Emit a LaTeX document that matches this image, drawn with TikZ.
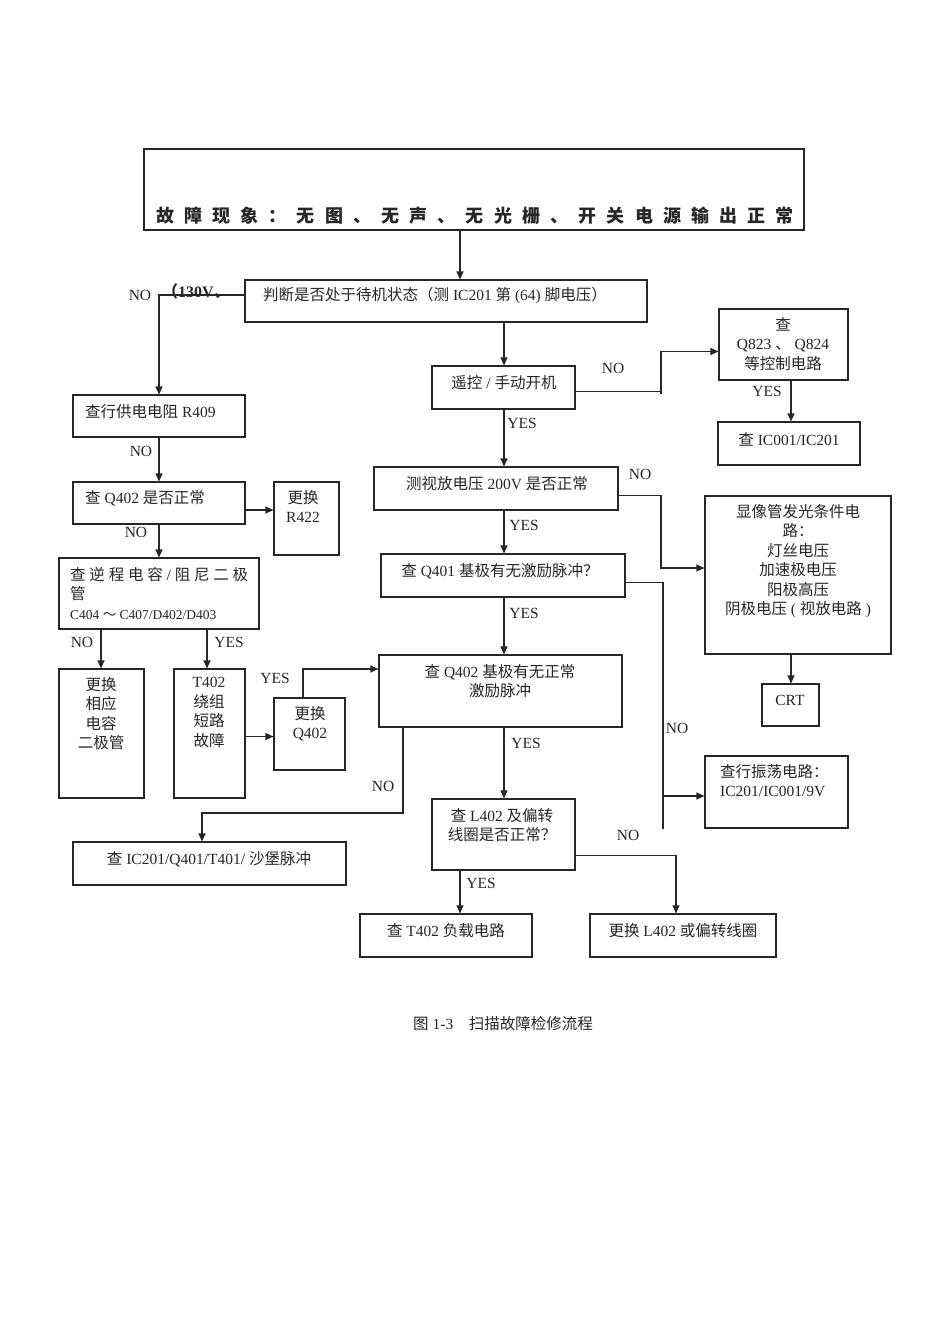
\documentclass[tikz,border=0pt]{standalone}
\usepackage{fontspec}
\setmainfont{Liberation Serif}
\newfontfamily\cjk{Noto Sans CJK SC}
\newcommand\zh[1]{{\cjk #1}}
\usetikzlibrary{arrows.meta,fit,calc}
\tikzset{
  boxsty/.style={draw=black!85, line width=1.1pt, inner sep=0pt},
  txt/.style={inner sep=0pt, font=\fontsize{15.5}{19.5}\selectfont, text=black!85, align=center},
  lbl/.style={inner sep=0pt, font=\fontsize{15.5}{19.5}\selectfont, text=black!85},
  arr/.style={draw=black!85, line width=1.1pt, -{Triangle[length=8pt,width=7pt]}},
  ln/.style={draw=black!85, line width=1.1pt}
}
\begin{document}
\begin{tikzpicture}[x=1pt,y=-1pt]
\useasboundingbox (0,0) rectangle (950,1344);
\fill[white] (0,0) rectangle (950,1344);
% helper coordinates
\coordinate (x460) at (460,0);
\coordinate (x504) at (504,0);
\coordinate (x661) at (661,0);
\coordinate (x663) at (663,0);
\coordinate (x676) at (676,0);
\coordinate (x791) at (791,0);
\coordinate (x403) at (403,0);
\coordinate (x202) at (202,0);
\coordinate (x101) at (101,0);
\coordinate (x207) at (207,0);
\coordinate (x303) at (303,0);
\coordinate (y813) at (0,813);
\coordinate (y796) at (0,796);
% boxes
\node[boxsty, line width=2.4pt, fit={(144,149)(804,230)}] (top) {};
\node[boxsty, fit={(245,280)(647,322)}] (judge) {};
\node[boxsty, fit={(73,395)(245,437)}] (r409) {};
\node[boxsty, fit={(73,482)(245,524)}] (q402) {};
\node[boxsty, fit={(274,482)(339,555)}] (r422) {};
\node[boxsty, fit={(59,558)(259,629)}] (nic) {};
\node[boxsty, fit={(59,669)(144,798)}] (rep1) {};
\node[boxsty, fit={(174,669)(245,798)}] (t402) {};
\node[boxsty, fit={(274,698)(345,770)}] (rq402) {};
\node[boxsty, fit={(432,366)(575,409)}] (yk) {};
\node[boxsty, fit={(719,309)(848,380)}] (q823) {};
\node[boxsty, fit={(718,422)(860,465)}] (ic001) {};
\node[boxsty, fit={(374,467)(618,510)}] (sv) {};
\node[boxsty, fit={(705,496)(891,654)}] (cond) {};
\node[boxsty, fit={(762,684)(819,726)}] (crt) {};
\node[boxsty, fit={(381,554)(625,597)}] (q401) {};
\node[boxsty, fit={(705,756)(848,828)}] (osc) {};
\node[boxsty, fit={(379,655)(622,727)}] (qb) {};
\node[boxsty, fit={(73,842)(346,885)}] (ic201) {};
\node[boxsty, fit={(432,799)(575,870)}] (l402) {};
\node[boxsty, fit={(360,914)(532,957)}] (t402l) {};
\node[boxsty, fit={(590,914)(776,957)}] (rl) {};
% texts
\node[txt, font=\fontsize{18}{20}\selectfont] (top-t) at (475,216) {\bfseries\cjk\makebox[638pt][s]{故\hfill 障\hfill 现\hfill 象\hfill ：\hfill 无\hfill 图\hfill 、\hfill 无\hfill 声\hfill 、\hfill 无\hfill 光\hfill 栅\hfill 、\hfill 开\hfill 关\hfill 电\hfill 源\hfill 输\hfill 出\hfill 正\hfill 常}};
\node[txt, anchor=west] (judge-t) at (263,296) {\zh{判断是否处于待机状态（测} IC201 \zh{第} (64) \zh{脚电压）}};
\node[txt, anchor=west] (r409-t) at (85,412) {\zh{查行供电电阻} R409};
\node[txt, anchor=west] (q402-t) at (85,498) {\zh{查} Q402 \zh{是否正常}};
\node[txt, anchor=north] (r422-t) at (303,490) {\zh{更换}\\R422};
\node[txt, anchor=north west, align=left] (nic-t) at (70,567) {\makebox[178pt][s]{\zh{查}\hfill\zh{逆}\hfill\zh{程}\hfill\zh{电}\hfill\zh{容}\hfill /\hfill\zh{阻}\hfill\zh{尼}\hfill\zh{二}\hfill\zh{极}}\\\zh{管}\\{\fontsize{13.5}{19.5}\selectfont C404 \zh{～} C407/D402/D403}};
\node[txt, anchor=north] (rep1-t) at (101,677) {\zh{更换}\\\zh{相应}\\\zh{电容}\\\zh{二极管}};
\node[txt, anchor=north] (t402-t) at (209,677) {T402\\\zh{绕组}\\\zh{短路}\\\zh{故障}};
\node[txt, anchor=north] (rq402-t) at (310,706) {\zh{更换}\\Q402};
\node[txt] (yk-t) at (504,383) {\zh{遥控} / \zh{手动开机}};
\node[txt, anchor=north] (q823-t) at (783,317) {\zh{查}\\Q823 \zh{、} Q824\\\zh{等控制电路}};
\node[txt] (ic001-t) at (789,439) {\zh{查} IC001/IC201};
\node[txt] (sv-t) at (497,484) {\zh{测视放电压} 200V \zh{是否正常}};
\node[txt, anchor=north] (cond-t) at (798,504) {\zh{显像管发光条件电}\\\zh{路：}\\\zh{灯丝电压}\\\zh{加速极电压}\\\zh{阳极高压}\\\zh{阴极电压} ( \zh{视放电路} )};
\node[txt] (crt-t) at (790,700) {CRT};
\node[txt] (q401-t) at (500,571) {\zh{查} Q401 \zh{基极有无激励脉冲？}};
\node[txt, anchor=north west, align=left] (osc-t) at (720,764) {\zh{查行振荡电路：}\\IC201/IC001/9V};
\node[txt, anchor=north] (qb-t) at (500,664) {\zh{查} Q402 \zh{基极有无正常}\\\zh{激励脉冲}};
\node[txt] (ic201-t) at (209,859) {\zh{查} IC201/Q401/T401/ \zh{沙堡脉冲}};
\node[txt, anchor=north] (l402-t) at (502,808) {\zh{查} L402 \zh{及偏转}\\\zh{线圈是否正常？}};
\node[txt] (t402l-t) at (446,931) {\zh{查} T402 \zh{负载电路}};
\node[txt] (rl-t) at (683,931) {\zh{更换} L402 \zh{或偏转线圈}};
\node[txt] (cap) at (503,1024) {\zh{图} 1-3\zh{　扫描故障检修流程}};
% connectors
\draw[arr] (top.south -| x460) -- (judge.north -| x460);
\draw[arr] ([yshift=6pt]judge.west) -| (r409.north);
\draw[arr] (r409.south) -- (q402.north);
\draw[arr] ([yshift=-7pt]q402.east) -- ([yshift=-7pt]q402.east -| r422.west);
\draw[arr] (q402.south) -- (nic.north);
\draw[arr] (nic.south -| x101) -- (rep1.north -| x101);
\draw[arr] (nic.south -| x207) -- (t402.north -| x207);
\draw[arr] ([yshift=-3pt]t402.east) -- ([yshift=-3pt]t402.east -| rq402.west);
\draw[arr] (rq402.north -| x303) |- ([yshift=22pt]qb.west);
\draw[arr] (judge.south -| x504) -- (yk.north -| x504);
\draw[ln] ([yshift=-4pt]yk.east) -- ([yshift=-4pt]yk.east -| x661) -- ++(0,2);
\draw[arr] ([yshift=-4pt]yk.east -| x661) |- ([yshift=-7pt]q823.west);
\draw[arr] (q823.south -| x791) -- (ic001.north -| x791);
\draw[arr] (yk.south -| x504) -- (sv.north -| x504);
\draw[arr] ([yshift=-7pt]sv.east) -- ([yshift=-7pt]sv.east -| x661) |- ([yshift=7pt]cond.west);
\draw[arr] (cond.south -| x791) -- (crt.north -| x791);
\draw[arr] (sv.south -| x504) -- (q401.north -| x504);
\draw[ln] ([yshift=-7pt]q401.east) -- ([yshift=-7pt]q401.east -| x663) -- (x663 |- osc.south);
\draw[arr] (x663 |- y796) -- (osc.west |- y796);
\draw[arr] (q401.south -| x504) -- (qb.north -| x504);
\draw[arr] (qb.south -| x403) -- (x403 |- y813) -| (ic201.north -| x202);
\draw[arr] (qb.south -| x504) -- (l402.north -| x504);
\draw[arr] (l402.south -| x460) -- (t402l.north -| x460);
\draw[arr] ([yshift=-21pt]l402.east) -| (rl.north -| x676);
% labels
\node[lbl] (l1) at (140,295) {NO};
\node[lbl, font=\fontsize{16}{19}\selectfont\bfseries, anchor=west] (l130) at (162,291) {\zh{（}130V\zh{、}};
\node[lbl] (l2) at (141,451) {NO};
\node[lbl] (l3) at (136,532) {NO};
\node[lbl] (l4) at (82,642) {NO};
\node[lbl] (l5) at (229,642) {YES};
\node[lbl] (l6) at (275,678) {YES};
\node[lbl] (l7) at (613,368) {NO};
\node[lbl] (l8) at (767,391) {YES};
\node[lbl] (l9) at (522,423) {YES};
\node[lbl] (l10) at (640,474) {NO};
\node[lbl] (l11) at (524,525) {YES};
\node[lbl] (l12) at (524,613) {YES};
\node[lbl] (l13) at (677,728) {NO};
\node[lbl] (l14) at (526,743) {YES};
\node[lbl] (l15) at (383,786) {NO};
\node[lbl] (l16) at (481,883) {YES};
\node[lbl] (l17) at (628,835) {NO};
\end{tikzpicture}
\end{document}
